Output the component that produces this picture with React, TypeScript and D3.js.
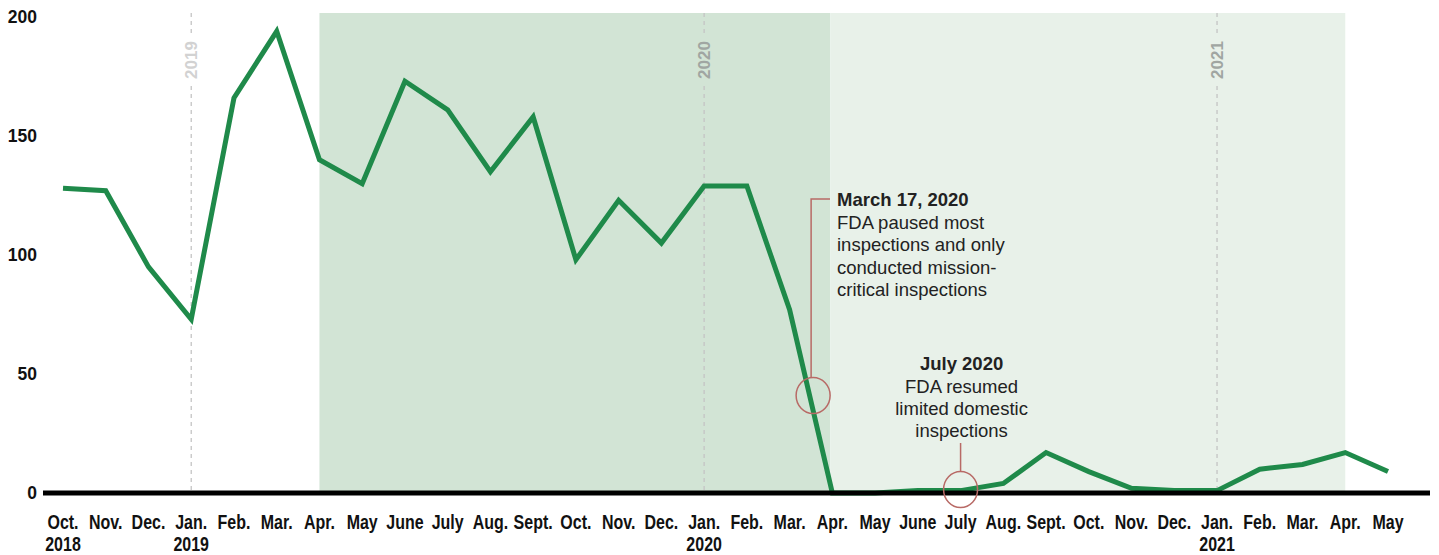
import React from "react";
import * as d3 from "d3";

const months = ["Oct.","Nov.","Dec.","Jan.","Feb.","Mar.","Apr.","May","June","July","Aug.","Sept.","Oct.","Nov.","Dec.","Jan.","Feb.","Mar.","Apr.","May","June","July","Aug.","Sept.","Oct.","Nov.","Dec.","Jan.","Feb.","Mar.","Apr.","May"];
const yearLabels: [number, string][] = [[0, "2018"], [3, "2019"], [15, "2020"], [27, "2021"]];
const inspections = [128,127,95,73,166,194,140,130,173,161,135,158,98,123,105,129,129,77,0,0,1,1,4,17,9,2,1,1,10,12,17,9];
const yTicks = [0, 50, 100, 150, 200];
const yearLines: [number, string][] = [[3, "2019"], [15, "2020"], [27, "2021"]];
const darkShade: [number, number] = [6, 18];
const lightShade: [number, number] = [18, 30];
const ann1 = { idx: 17.55, value: 41, title: "March 17, 2020", lines: ["FDA paused most", "inspections and only", "conducted mission-", "critical inspections"] };
const ann2 = { idx: 21, value: 1.5, title: "July 2020", lines: ["FDA resumed", "limited domestic", "inspections"] };

export default function App() {
  const W = 1439, H = 555;
  const x = d3.scaleLinear().domain([0, months.length - 1]).range([63, 1388]);
  const y = d3.scaleLinear().domain([0, 200]).range([493, 17]);
  const top = 13;
  const line = d3.line<number>().x((_, i) => x(i)).y(d => y(d));
  const font = "'Liberation Sans', Arial, sans-serif";
  const annColor = "#b86a66";
  const c1x = x(ann1.idx), c1y = y(ann1.value);
  const c2x = x(ann2.idx), c2y = y(ann2.value);
  return (
    <svg width={W} height={H} style={{ position: "absolute", left: 0, top: 0, background: "#fff" }}>
      <rect x={x(darkShade[0])} y={top} width={x(darkShade[1]) - x(darkShade[0]) - 2} height={y(0) - top} fill="#d2e4d5" />
      <rect x={x(lightShade[0]) - 2} y={top} width={x(lightShade[1]) - x(lightShade[0]) + 2} height={y(0) - top} fill="#e8f1e9" />
      {yearLines.map(([i, lab]) => (
        <g key={lab}>
          <line x1={x(i)} x2={x(i)} y1={top} y2={34} stroke="#c4c4c4" strokeWidth={1.3} strokeDasharray="4,4" />
          <line x1={x(i)} x2={x(i)} y1={86} y2={y(0)} stroke="#c4c4c4" strokeWidth={1.3} strokeDasharray="4,4" />
          <text transform={`translate(${x(i) + 6},${60}) rotate(-90)`} textAnchor="middle" fontFamily={font} fontWeight="bold" fontSize={17} fill={lab === "2019" ? "#d2d2d2" : "#a0a6a2"}>{lab}</text>
        </g>
      ))}
      {yTicks.map(t => (
        <text key={t} x={37} y={y(t) + 6} textAnchor="end" fontFamily={font} fontWeight="bold" fontSize={17.5} fill="#111">{t}</text>
      ))}
      <path d={line(inspections) || ""} fill="none" stroke="#1f8a4a" strokeWidth={5} strokeLinejoin="miter" />
      <line x1={43} x2={1430} y1={y(0)} y2={y(0)} stroke="#000" strokeWidth={5} />
      {months.map((m, i) => (
        <text key={i} transform={`translate(${x(i)},529) scale(0.78,1)`} textAnchor="middle" fontFamily={font} fontWeight="bold" fontSize={20.5} fill="#111">{m}</text>
      ))}
      {yearLabels.map(([i, lab]) => (
        <text key={lab} transform={`translate(${x(i)},551) scale(0.78,1)`} textAnchor="middle" fontFamily={font} fontWeight="bold" fontSize={20.5} fill="#111">{lab}</text>
      ))}
      <g>
        <ellipse cx={c1x} cy={c1y} rx={17} ry={18} fill="none" stroke={annColor} strokeWidth={1.5} />
        <polyline points={`${c1x - 2},${c1y - 18} ${c1x - 2},199 830,199`} fill="none" stroke={annColor} strokeWidth={1.5} />
        <text x={837} y={206} fontFamily={font} fontWeight="bold" fontSize={18.5} fill="#222">{ann1.title}</text>
        {ann1.lines.map((l, i) => (
          <text key={i} x={837} y={229 + i * 22.3} fontFamily={font} fontSize={18.5} fill="#222">{l}</text>
        ))}
      </g>
      <g>
        <ellipse cx={c2x} cy={c2y} rx={17} ry={18} fill="none" stroke={annColor} strokeWidth={1.5} />
        <line x1={c2x} x2={c2x} y1={443} y2={c2y - 18} stroke={annColor} strokeWidth={1.5} />
        <text x={c2x + 1} y={370} textAnchor="middle" fontFamily={font} fontWeight="bold" fontSize={18.5} fill="#222">{ann2.title}</text>
        {ann2.lines.map((l, i) => (
          <text key={i} x={c2x + 1} y={393 + i * 22} textAnchor="middle" fontFamily={font} fontSize={18.5} fill="#222">{l}</text>
        ))}
      </g>
    </svg>
  );
}
